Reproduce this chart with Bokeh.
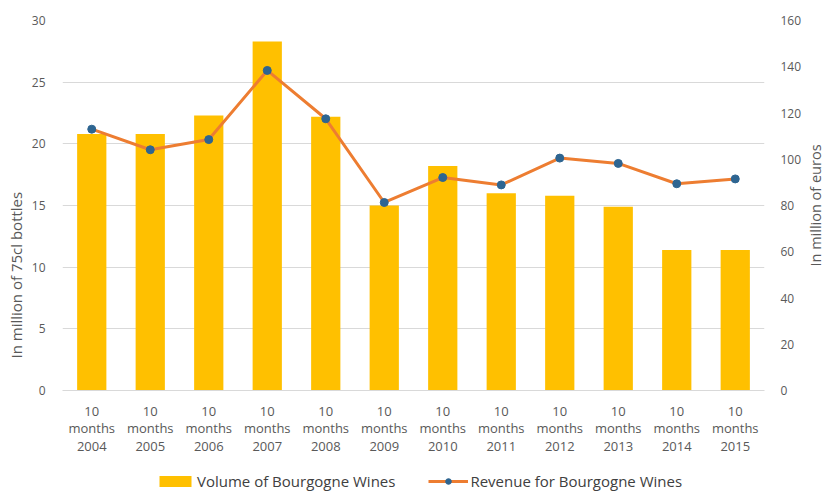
from bokeh.plotting import figure
from bokeh.layouts import column, row
from bokeh.models import Range1d, LinearAxis, FixedTicker, FactorRange, Legend, LegendItem, Title, Label
from bokeh.embed import file_html
from bokeh.resources import INLINE
import math

categories = ["10\nmonths\n2004", "10\nmonths\n2005", "10\nmonths\n2006", "10\nmonths\n2007",
              "10\nmonths\n2008", "10\nmonths\n2009", "10\nmonths\n2010", "10\nmonths\n2011",
              "10\nmonths\n2012", "10\nmonths\n2013", "10\nmonths\n2014", "10\nmonths\n2015"]
volume = [20.8, 20.8, 22.3, 28.3, 22.2, 15.0, 18.2, 16.0, 15.8, 14.9, 11.4, 11.4]
revenue = [113.0, 104.1, 108.5, 138.4, 117.5, 81.3, 92.1, 88.9, 100.5, 98.2, 89.4, 91.5]
left_ticks = [0, 5, 10, 15, 20, 25, 30]
right_ticks = [0, 20, 40, 60, 80, 100, 120, 140, 160]
series_names = ["Volume of Bourgogne Wines", "Revenue for Bourgogne Wines"]
left_title = "In million of 75cl bottles"
right_title = "In million of euros"

FONT = "Open Sans"
GRAY = "#595959"
BAR = "#FFC000"
LINE = "#ED7D31"
DOT = "#2E6591"

xr = FactorRange(factors=categories)
p = figure(width=804, height=466, x_range=xr,
           y_range=Range1d(0, 30), output_backend="svg", toolbar_location=None,
           min_border_left=62, min_border_right=39, min_border_top=20, min_border_bottom=76)
p.extra_y_ranges = {"rev": Range1d(0, 160)}
p.outline_line_color = None

p.vbar(x=categories, top=volume, width=0.5, fill_color=BAR, line_color=None)
p.line(x=categories, y=revenue, y_range_name="rev", line_width=3, line_color=LINE)
p.scatter(x=categories, y=revenue, y_range_name="rev", size=8, fill_color=DOT, line_color=DOT)

p.xgrid.grid_line_color = None
p.ygrid.ticker = FixedTicker(ticks=left_ticks)
p.ygrid.grid_line_color = "#d9d9d9"

xa = p.xaxis[0]
xa.axis_line_color = "#d9d9d9"
xa.major_tick_line_color = None
xa.minor_tick_line_color = None
xa.major_label_text_font = FONT
xa.major_label_text_font_size = "13px"
xa.major_label_text_color = GRAY
xa.major_label_text_line_height = 0.98
xa.major_label_standoff = 5

ya = p.yaxis[0]
ya.ticker = FixedTicker(ticks=left_ticks)
ya.axis_line_color = None
ya.major_tick_line_color = None
ya.minor_tick_line_color = None
ya.major_label_text_font = FONT
ya.major_label_text_font_size = "12px"
ya.major_label_text_color = GRAY
ya.major_label_standoff = 11

ltitle = Title(text=left_title, align="left", offset=32, standoff=5,
               text_font=FONT, text_font_size="15px", text_font_style="normal", text_color=GRAY)
p.add_layout(ltitle, "left")

ra = LinearAxis(y_range_name="rev", ticker=FixedTicker(ticks=right_ticks))
ra.axis_line_color = None
ra.major_tick_line_color = None
ra.minor_tick_line_color = None
ra.major_label_text_font = FONT
ra.major_label_text_font_size = "12px"
ra.major_label_text_color = GRAY
ra.major_label_standoff = 10
p.add_layout(ra, "right")

# narrow strip on the right holding the right axis title (reads bottom to top)
rf = figure(width=22, height=466, x_range=Range1d(0, 1), y_range=Range1d(0, 1),
            output_backend="svg", toolbar_location=None,
            min_border_left=0, min_border_right=0, min_border_top=20, min_border_bottom=76)
rf.axis.visible = False
rf.grid.visible = False
rf.outline_line_color = None
rf.add_layout(Label(x=0.5, y=0.5, text=right_title, angle=math.pi / 2,
                    text_align="center", text_baseline="middle",
                    text_font=FONT, text_font_size="14.5px", text_color=GRAY))

# legend strip below the chart (series kept out of view, only the legend shows)
lf = figure(width=826, height=25, x_range=xr, y_range=Range1d(1000, 1001),
            output_backend="svg", toolbar_location=None,
            min_border_left=62, min_border_right=61, min_border_top=0, min_border_bottom=0)
lf.axis.visible = False
lf.grid.visible = False
lf.outline_line_color = None
lbar = lf.vbar(x=categories, top=volume, width=0.5, fill_color=BAR, line_color=None)
lline = lf.line(x=categories, y=revenue, line_width=3, line_color=LINE)
ldot = lf.scatter(x=categories, y=revenue, size=8, fill_color=DOT, line_color=DOT)
legend = Legend(items=[LegendItem(label=series_names[0], renderers=[lbar]),
                       LegendItem(label=series_names[1], renderers=[lline, ldot])],
                orientation="horizontal", location=(93, 0),
                label_text_font=FONT, label_text_font_size="15px", label_text_color="#404040",
                glyph_width=40, glyph_height=14, label_height=18, label_standoff=2,
                spacing=33, padding=0, margin=0,
                border_line_color=None, background_fill_alpha=0)
lf.add_layout(legend, "center")

layout = column(row(p, rf, spacing=0), lf, spacing=0)
open("out.html", "w").write(file_html(layout, INLINE))
